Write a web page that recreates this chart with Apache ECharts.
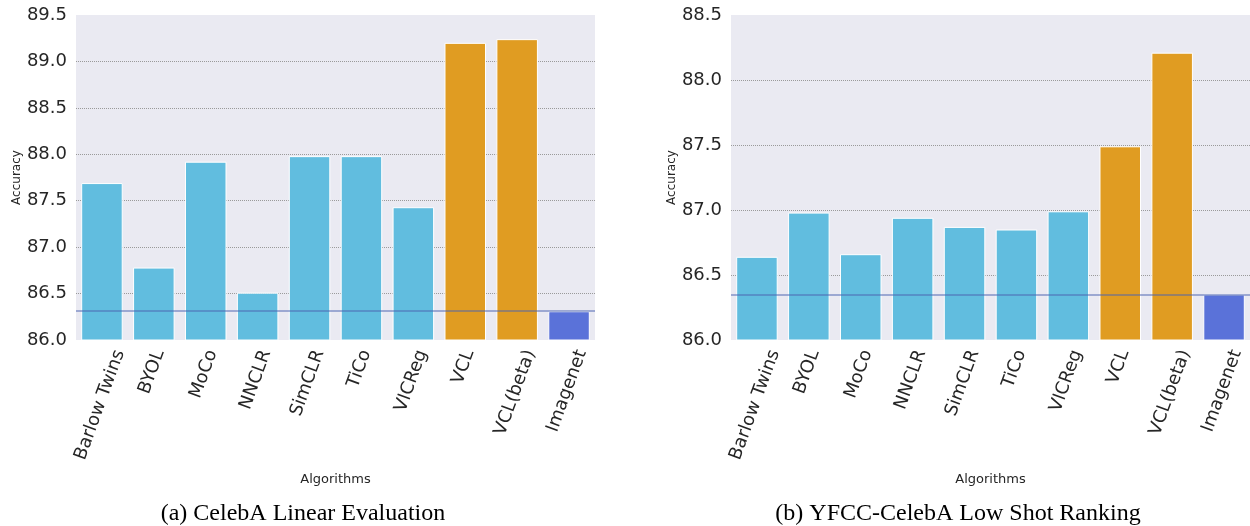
<!DOCTYPE html>
<html>
<head>
<meta charset="utf-8">
<script src="https://cdn.jsdelivr.net/npm/echarts@6/dist/echarts.min.js"></script>
<style>
  html, body { margin: 0; padding: 0; background: #fff; }
  #chart { width: 1250px; height: 526px; }
</style>
</head>
<body>
<div id="chart"></div>
<script>
// data
const algorithms = ['Barlow Twins', 'BYOL', 'MoCo', 'NNCLR', 'SimCLR', 'TiCo', 'VICReg', 'VCL', 'VCL(beta)', 'Imagenet'];
const celebaLinear = [87.69, 86.78, 87.92, 86.51, 87.98, 87.98, 87.43, 89.20, 89.24, 86.31];
const yfccLowShot = [86.64, 86.98, 86.66, 86.94, 86.87, 86.85, 86.99, 87.49, 88.21, 86.35];
const imagenetLineA = 86.31;
const imagenetLineB = 86.35;
const captions = ['(a) CelebA Linear Evaluation', '(b) YFCC-CelebA Low Shot Ranking'];

// colour group of each bar: 0 = baselines, 1 = VCL, 2 = imagenet
const colorGroup = [0, 0, 0, 0, 0, 0, 0, 1, 1, 2];
const palette = ['#61bddf', '#e09c22', '#5a72d9'];

var myChart = echarts.init(document.getElementById('chart'));

function barData(vals) {
  return vals.map(function (v, i) {
    return { value: v, itemStyle: { color: palette[colorGroup[i]] } };
  });
}

function yAxisOf(gridIndex, max) {
  return {
    type: 'value',
    gridIndex: gridIndex,
    min: 86,
    max: max,
    interval: 0.5,
    name: 'Accuracy',
    nameLocation: 'middle',
    nameGap: 52,
    nameTextStyle: { fontSize: 12, color: '#262626', fontFamily: 'DejaVu Sans' },
    axisLine: { show: false },
    axisTick: { show: false },
    axisLabel: {
      fontSize: 18, color: '#262626', fontFamily: 'DejaVu Sans', margin: 9,
      formatter: function (v) { return v.toFixed(1); }
    },
    splitLine: {
      show: true, showMinLine: false, showMaxLine: false,
      lineStyle: { color: '#9a9a9a', type: 'dotted', width: 1 }
    }
  };
}

function xAxisOf(gridIndex) {
  return {
    type: 'category',
    gridIndex: gridIndex,
    data: algorithms,
    name: 'Algorithms',
    nameLocation: 'middle',
    nameGap: 133,
    nameTextStyle: { fontSize: 13, color: '#262626', fontFamily: 'DejaVu Sans' },
    axisLine: { show: false },
    axisTick: { show: false },
    axisLabel: { show: false },  // drawn below, centred like matplotlib's ha='center'
    splitLine: { show: false }
  };
}

function barSeries(idx, vals, lineVal) {
  return {
    type: 'bar',
    xAxisIndex: idx,
    yAxisIndex: idx,
    barCategoryGap: '20%',
    data: barData(vals),
    itemStyle: { borderColor: '#ffffff', borderWidth: 1 },
    markLine: {
      silent: true,
      symbol: 'none',
      label: { show: false },
      lineStyle: { color: 'rgba(76,100,176,0.65)', type: 'solid', width: 1.5 },
      data: [{ yAxis: lineVal }]
    }
  };
}

myChart.setOption({
  animation: false,
  backgroundColor: '#ffffff',
  title: [
    { text: captions[0], left: 298, top: 497, textAlign: 'center',
      textStyle: { fontFamily: 'Liberation Serif', fontWeight: 'normal', fontSize: 24, color: '#000' } },
    { text: captions[1], left: 953, top: 497, textAlign: 'center',
      textStyle: { fontFamily: 'Liberation Serif', fontWeight: 'normal', fontSize: 24, color: '#000' } }
  ],
  grid: [
    { left: 76, right: 655, top: 15, bottom: 186, show: true, backgroundColor: '#eaeaf2', borderWidth: 0 },
    { left: 731, right: 0, top: 15, bottom: 186, show: true, backgroundColor: '#eaeaf2', borderWidth: 0 }
  ],
  xAxis: [xAxisOf(0), xAxisOf(1)],
  yAxis: [yAxisOf(0, 89.5), yAxisOf(1, 88.5)],
  series: [
    barSeries(0, celebaLinear, imagenetLineA),
    barSeries(1, yfccLowShot, imagenetLineB)
  ]
});

// rotated tick labels: box of the rotated text centred on the tick
function drawTickLabels() {
  var fs = 18;
  var font = fs + 'px "DejaVu Sans"';
  var ctx = document.createElement('canvas').getContext('2d');
  ctx.font = font;
  var ang = 70 * Math.PI / 180;
  var lh = fs * 1.17;
  var pad = 7;
  var els = [];
  [0, 1].forEach(function (gi) {
    algorithms.forEach(function (name, i) {
      var p = myChart.convertToPixel({ xAxisIndex: gi, yAxisIndex: gi }, [i, 86]);
      var L = ctx.measureText(name).width;
      var bh = L * Math.sin(ang) + lh * Math.cos(ang);
      els.push({
        type: 'text',
        x: p[0] - 2,
        y: p[1] + pad + bh / 2,
        rotation: ang,
        silent: true,
        style: { text: name, font: font, fill: '#262626', align: 'center', verticalAlign: 'middle' }
      });
    });
  });
  myChart.setOption({ graphic: els });
}
drawTickLabels();
</script>
</body>
</html>
